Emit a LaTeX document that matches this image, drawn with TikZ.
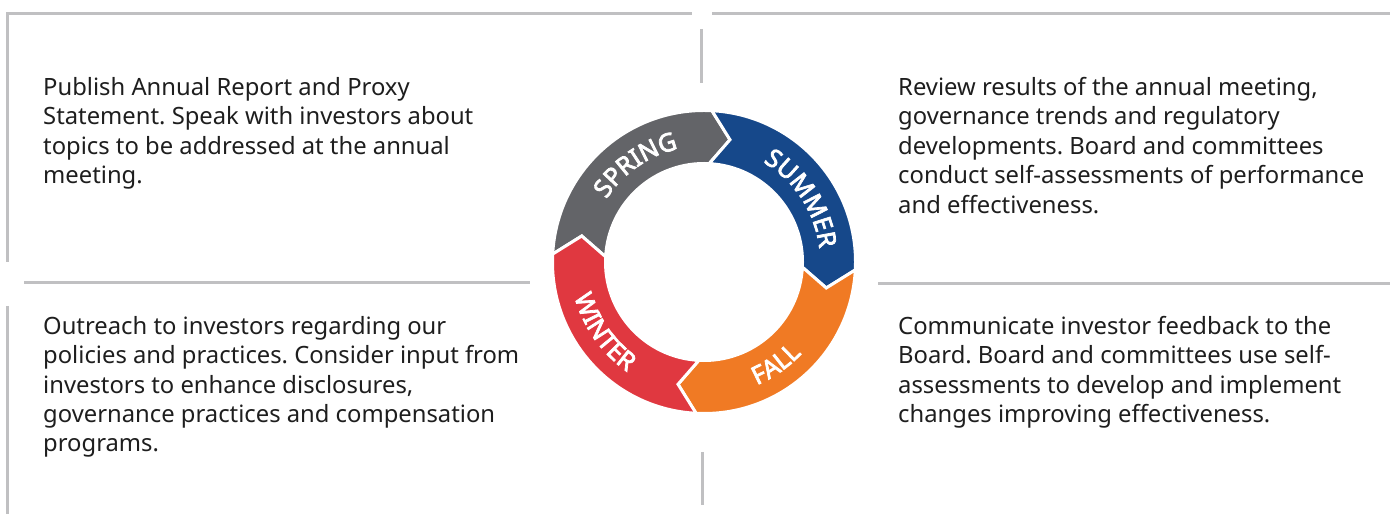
\documentclass[tikz,border=0pt]{standalone}
\usepackage{fontspec}
\setmainfont{Noto Sans}
\newfontfamily\seasonfont{Noto Sans}[FakeBold=3]
\usetikzlibrary{positioning,decorations.text}
\definecolor{framegray}{RGB}{192,192,194}
\definecolor{bodytext}{RGB}{30,30,30}
\definecolor{springgray}{RGB}{99,100,104}
\definecolor{summerblue}{RGB}{22,72,138}
\definecolor{fallorange}{RGB}{240,122,36}
\definecolor{winterred}{RGB}{224,56,64}
\frenchspacing
\tikzset{
  frameline/.style={draw=framegray, line width=3pt},
  seasontext/.style={anchor=north west, inner sep=0pt, align=left, text=bodytext,
    font=\fontsize{23.8}{29.4}\selectfont},
  ringlabel/.style={decorate, decoration={text along path, text align=center, text color=white}}
}
\newcommand\ringfont{\seasonfont\fontsize{25}{25}\selectfont}

\begin{document}
\begin{tikzpicture}[x=1pt,y=1pt]
\useasboundingbox[fill=white] (0,0) rectangle (1390,514);

% frame lines
\draw[frameline] (7.5,252) -- (7.5,500.5) -- (692,500.5);
\draw[frameline] (712,500.5) -- (1390,500.5);
\draw[frameline] (701.5,485) -- (701.5,431);
\draw[frameline] (24,231) -- (530,231);
\draw[frameline] (878,230) -- (1390,230);
\draw[frameline] (7.5,208) -- (7.5,0);
\draw[frameline] (702,62) -- (702,9);

% the ring
\begin{scope}[shift={(704,252)}]
\foreach \a/\b/\c in {177/87/springgray, 87/-3/summerblue, -3/-93/fallorange, -93/-183/winterred}
  \filldraw[fill=\c, draw=white, line width=3pt]
    (\a:151.5pt) arc[start angle=\a, end angle=\b, radius=151.5pt]
    -- ({\b-9}:125pt) -- (\b:98.5pt)
    arc[start angle=\b, end angle=\a, radius=98.5pt]
    -- ({\a-9}:125pt) -- cycle;

\path[ringlabel, decoration={text={|\ringfont|SPRING}}]
  (160:116pt) arc[start angle=160, end angle=90, radius=116pt];
\path[ringlabel, decoration={text={|\ringfont|SUMMER}}]
  (70:116pt) arc[start angle=70, end angle=-4, radius=116pt];
\path[ringlabel, decoration={text={|\ringfont|FALL}}]
  (-90:134pt) arc[start angle=-90, end angle=-20, radius=134pt];
\path[ringlabel, decoration={text={|\ringfont|WINTER}}]
  (180:134pt) arc[start angle=180, end angle=250, radius=134pt];
\end{scope}

% season notes
\node[seasontext] (springtext) at (43,437) {Publish Annual Report and Proxy\\
  Statement. Speak with investors about\\ topics to be addressed at the annual\\ meeting.};
\node[seasontext] (summertext) at (898,437) {Review results of the annual meeting,\\
  governance trends and regulatory\\ developments. Board and committees\\
  conduct self-assessments of performance\\ and effectiveness.};
\node[seasontext] (wintertext) at (43,198) {Outreach to investors regarding our\\
  policies and practices. Consider input from\\ investors to enhance disclosures,\\
  governance practices and compensation\\ programs.};
\node[seasontext] (falltext) at (898,198) {Communicate investor feedback to the\\
  Board. Board and committees use self-\\ assessments to develop and implement\\
  changes improving effectiveness.};
\end{tikzpicture}
\end{document}
